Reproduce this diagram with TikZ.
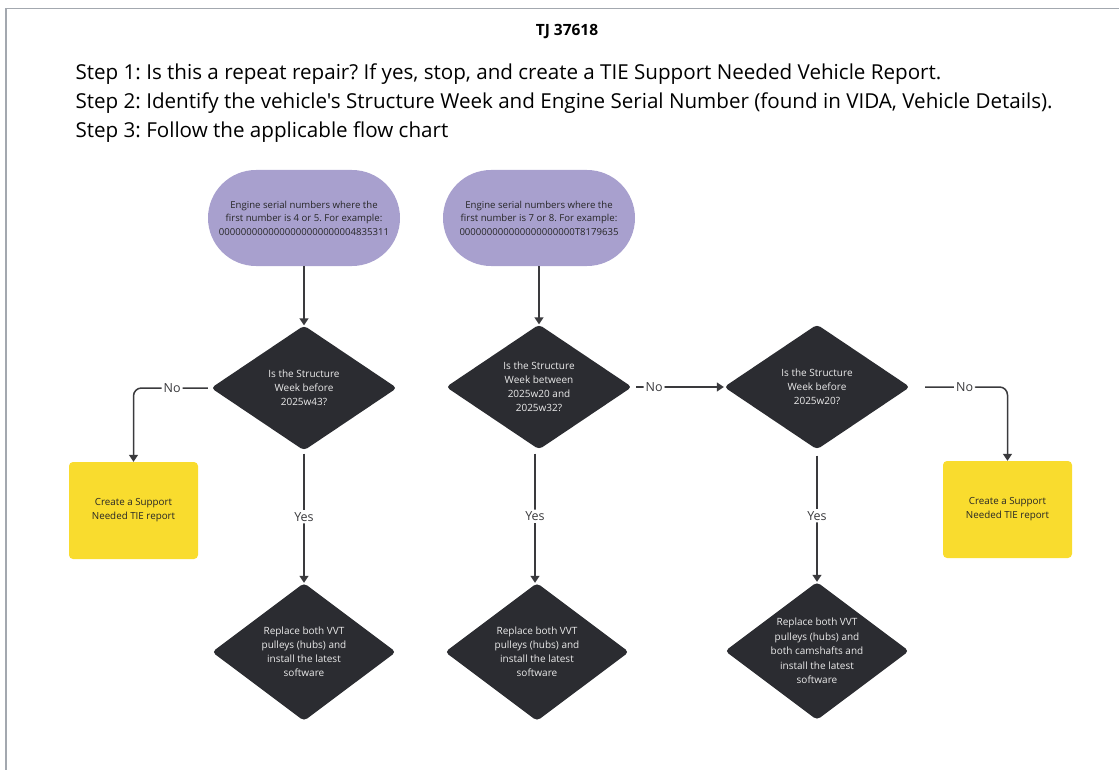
\documentclass[tikz,border=0pt]{standalone}
\usepackage{fontspec}
\setmainfont{Open Sans}[Ligatures=TeXOff]
\usetikzlibrary{shapes.geometric,arrows.meta,positioning}
\frenchspacing

\definecolor{termfill}{HTML}{A8A0CE}
\definecolor{decfill}{HTML}{2B2C31}
\definecolor{repfill}{HTML}{F9DC2E}
\definecolor{linecol}{HTML}{3A3A3D}
\definecolor{framecol}{HTML}{A3A8AF}

\tikzset{
	terminal/.style={rectangle,rounded corners=48pt,fill=termfill,minimum width=192pt,
		minimum height=96pt,align=center,font=\fontsize{9.6}{13.5}\selectfont,text=black!85},
	decision/.style={diamond,rounded corners=4pt,fill=decfill,minimum width=186pt,
		minimum height=125pt,inner sep=0pt,align=center,text=white!92!black,
		font=\fontsize{10}{14}\selectfont},
	action/.style={decision,minimum width=184pt,minimum height=138pt,inner sep=-10pt},
	report/.style={rectangle,rounded corners=4pt,fill=repfill,minimum width=129pt,
		minimum height=97pt,align=center,font=\fontsize{9.8}{14}\selectfont,text=black!85},
	answer/.style={fill=white,inner sep=2pt,font=\fontsize{12.5}{14}\selectfont,text=linecol},
	flow/.style={draw=linecol,line width=1.5pt,rounded corners=8pt},
	steptext/.style={anchor=base west,font=\fontsize{20.6}{24}\selectfont},
}

\begin{document}
\begin{tikzpicture}[x=1pt,y=-1pt,node distance=100pt,on grid,
	>={Triangle[width=9pt,length=7pt]}]
	\useasboundingbox (0,0) rectangle (1119,770);
	\draw[framecol,line width=1.5pt] (6,770) -- (6,8.5) -- (1119,8.5);

	% header
	\node[font=\bfseries\fontsize{15.5}{18}\selectfont] (title) at (567,32) {TJ 37618};
	\node[steptext] (step1) at (72,80)
		{Step 1: Is this a repeat repair? If yes, stop, and create a TIE Support Needed Vehicle Report.};
	\node[steptext] (step2) at (72,109)
		{Step 2: Identify the vehicle's Structure Week and Engine Serial Number (found in VIDA, Vehicle Details).};
	\node[steptext] (step3) at (72,137.5)
		{Step 3: Follow the applicable flow chart};

	% flow chart
	\node[terminal] (s1) at (304,218) {Engine serial numbers where the\\first number is 4 or 5. For example:\\0000000000000000000000004835311};
	\node[terminal,right=235pt of s1] (s2) {Engine serial numbers where the\\first number is 7 or 8. For example:\\000000000000000000000T8179635};
	\node[decision,below=170pt of s1] (q1) {Is the Structure\\Week before\\2025w43?};
	\node[decision,below=169pt of s2] (q2) {Is the Structure\\Week between\\2025w20 and\\2025w32?};
	\node[decision,right=278pt of q2] (q3) {Is the Structure\\Week before\\2025w20?};
	\node[report,below left=122.5pt and 170.5pt of q1] (r1) {Create a Support\\Needed TIE report};
	\node[report,below right=122.5pt and 190.5pt of q3] (r2) {Create a Support\\Needed TIE report};
	\node[action,below=264pt of q1] (a1) {Replace both VVT\\pulleys (hubs) and\\install the latest\\software};
	\node[action,below=265pt of q2,xshift=-2pt] (a2) {Replace both VVT\\pulleys (hubs) and\\install the latest\\software};
	\node[action,below=264pt of q3,font=\fontsize{10}{14.5}\selectfont] (a3) {Replace both VVT\\pulleys (hubs) and\\both camshafts and\\install the latest\\software};

	\draw[flow,->] (s1) -- (q1);
	\draw[flow,->] (s2) -- (q2);
	\draw[flow,->,shorten <=3pt] (q1.west) -| node[answer,pos=0.25] {No} (r1.north);
	\draw[flow,->,shorten <=3pt] (q1.south) -- node[answer] {Yes} (a1.north);
	\draw[flow,->,shorten <=4pt] ([xshift=-4pt]q2.south) -- node[answer] {Yes} ([xshift=-4pt]q2.south |- a2.north);
	\draw[flow,->,shorten <=4pt] (q2.east) -- node[answer,pos=0.24] {No} (q3.west);
	\draw[flow,->,shorten <=6pt] (q3.south) -- node[answer] {Yes} (a3.north);
	\draw[flow,->,shorten <=15pt] (q3.east) -| node[answer,pos=0.28] {No} (r2.north);
\end{tikzpicture}
\end{document}
